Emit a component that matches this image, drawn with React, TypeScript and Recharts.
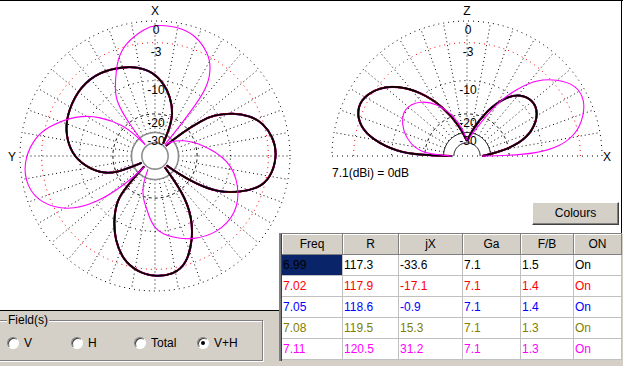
import { ScatterChart, Scatter, XAxis, YAxis } from 'recharts';

type Pt = [number, number];

// table values, one entry per frequency (MHz)
const freqs = ['6.99', '7.02', '7.05', '7.08', '7.11'];
const resistance = [117.3, 117.9, 118.6, 119.5, 120.5];
const reactance = [-33.6, -17.1, -0.9, 15.3, 31.2];
const gainDbi = [7.1, 7.1, 7.1, 7.1, 7.1];
const frontBack = [1.5, 1.4, 1.4, 1.3, 1.3];
const onState = ['On', 'On', 'On', 'On', 'On'];
const freqColors = ['#000000', '#ff0000', '#0000ff', '#808000', '#ff00ff'];
const tableHeaders = ['Freq', 'R', 'jX', 'Ga', 'F/B', 'ON'];

// grid rings (dB) and the ones that get a label
const ringDb = [0, -3, -10, -20, -30, -40];
const ringLabels = ['0', '-3', '-10', '-20', '-30'];
const fieldOptions = ['V', 'H', 'Total', 'V+H'];

// azimuth pattern, [degrees from X towards Y, dB rel. 7.1 dBi]
// field drawn for every frequency (colours overlap)
const azColouredRight: Pt[] = [
    [-129, -37.7], [-127, -25.8], [-124, -17.0], [-120, -10.8], [-113.5, -6.6], [-106, -3.2],
    [-98, -2.16], [-88.6, -1.74], [-81, -2.09], [-73, -3.05], [-67, -4.64], [-61, -7.15],
    [-55, -11.0], [-53, -13.9], [-49, -23.2], [-47, -37.7],
];
const azColouredBottom: Pt[] = [
    [134, -37.7], [136, -27.0], [137.3, -20.2], [139, -14.5], [147, -9.9], [154.5, -6.4],
    [163, -3.7], [171, -2.5], [179.2, -1.9], [189, -2.0], [196.5, -3.2], [204.2, -6.6],
    [211.2, -11.0], [217.2, -18.1], [221, -37.7],
];
const azColouredUpperLeft: Pt[] = [
    [-33.2, -37.7], [-28, -25.8], [-23.2, -18.3], [-14.3, -13.6], [-8, -10.9], [1.4, -8.1],
    [11.4, -6.8], [19.5, -6.1], [33, -5.0], [47.3, -4.8], [62, -5.5], [73.9, -6.3],
    [86, -7.9], [95.6, -10.1], [107.5, -14.6], [114, -20.0], [117, -37.7],
];
// other field, magenta only
const azMagentaTop: Pt[] = [
    [-41, -37.7], [-39.5, -20.9], [-38.5, -12.5], [-37, -7.3], [-32.2, -4.3], [-27.2, -2.6],
    [-18.2, -0.9], [-9, -0.45], [0, -0.5], [4.5, -0.9], [14.9, -2.5], [21.6, -4.6],
    [28.7, -8.4], [35.5, -11.5], [39, -20.9], [41, -37.7],
];
const azMagentaLeft: Pt[] = [
    [41, -37.7], [43, -27.0], [45.6, -19.2], [54.4, -11.9], [62.4, -7.3], [74.9, -3.2],
    [82.5, -1.6], [93, -0.4], [103.4, -0.4], [112.4, -1.5], [121.8, -4.5], [129, -10.1],
    [134, -21.3], [136, -37.7],
];
const azMagentaLowerRight: Pt[] = [
    [152, -37.7], [157, -24.2], [165.1, -18.7], [171, -16.0], [178.7, -10.3], [192.5, -8.1],
    [204.5, -6.6], [218.6, -5.3], [235, -5.15], [250.1, -7.0], [267, -10.1], [285.8, -18.2],
    [300, -24.7], [313.6, -31.9], [316, -37.7],
];

// elevation pattern, [degrees from +X towards Z, dB]
const elColouredLeft: Pt[] = [
    [90, -37.7], [103.4, -25.8], [115.7, -15.5], [126.2, -9.0], [135.1, -5.3], [141.7, -3.4],
    [150.2, -2.1], [157.4, -2.1], [164.7, -3.4], [170.3, -6.0], [176.5, -11.2], [178.8, -18.1],
    [180, -37.7],
];
const elColouredRight: Pt[] = [
    [0, -37.7], [2.9, -33.0], [7.4, -24.0], [13.5, -15.6], [21.4, -11.0], [30.9, -8.3],
    [40.2, -7.6], [49.3, -8.7], [56.2, -10.9], [66.8, -17.0], [82.5, -30.4], [88, -37.7],
];
const elMagentaRight: Pt[] = [
    [0, -37.7], [0.5, -20.9], [2.2, -11.4], [5.7, -6.3], [11.7, -3.2], [18.7, -1.6],
    [25.4, -0.6], [32.9, -0.6], [40.6, -2.3], [47.5, -4.6], [52.4, -7.6], [59.5, -12.5],
    [68.3, -23.1], [80, -32.8], [88, -37.7],
];
const elMagentaLeft: Pt[] = [
    [90, -37.7], [98, -28.1], [108.5, -19.6], [119.9, -13.7], [130.5, -10.7], [140.7, -9.4],
    [149, -9.8], [159.1, -11.7], [167.4, -14.4], [174.8, -18.0], [178.5, -27.6], [180, -37.7],
];

const UNIT = 135; // px radius of the 0 dB ring
const SPAN = 150 / UNIT;
const FLOOR = -40;

// ARRL log scale: 0.89 per 2 dB
const arrl = (db: number) => Math.pow(0.89, -Math.max(db, FLOOR) / 2);
const polar = (deg: number, db: number) => {
    const t = (deg * Math.PI) / 180;
    const r = arrl(db);
    return { x: r * Math.cos(t), y: r * Math.sin(t) };
};
const azPts = (lobe: Pt[]) => lobe.map(([a, db]) => polar(a + 90, db));
const elPts = (lobe: Pt[]) => lobe.map(([a, db]) => polar(a, db));

const arc = (db: number, from: number, to: number) => {
    const out = [];
    for (let a = from; a <= to; a += 2) out.push(polar(a, db));
    return out;
};

const noDot = () => <g />;

const path = (key: string, data: { x: number; y: number }[], stroke: string, width: number,
    dash?: string, curve: 'linear' | 'basis' = 'linear') => (
    <Scatter
        key={key}
        data={data}
        shape={noDot}
        isAnimationActive={false}
        legendType="none"
        lineJointType={curve}
        line={{ stroke, strokeWidth: width, strokeDasharray: dash, fill: 'none' }}
    />
);

const ringStyle = (db: number, solid: string): [string, number, string | undefined] => {
    if (db === -3) return ['#ff0000', 1, '1 4'];
    if (db === -20) return ['#000000', 1, '3 3'];
    if (db <= -30) return [solid, solid === '#000000' ? 1 : 1.6, undefined];
    return ['#000000', 1, '1 4'];
};

// later frequencies underneath, first one on top, so the trace looks dark with coloured fringes
const colouredLobe = (key: string, data: { x: number; y: number }[]) =>
    freqColors.map((c, i) => ({ c, i })).reverse()
        .map(({ c, i }) => path(`${key}-${i}`, data, c, 1.6 + i * 0.12, undefined, 'basis'));

const azimuthGrid = () => {
    const items = [];
    for (let a = 0; a < 360; a += 10) {
        items.push(path(`sp${a}`, [polar(a, -30), polar(a, 0)], '#000000', 1, '1 3'));
    }
    ringDb.forEach((db) => {
        const [c, w, d] = ringStyle(db, '#8c8c8c');
        items.push(path(`r${db}`, arc(db, 0, 360), c, w, d));
    });
    return items;
};

const elevationGrid = () => {
    const items = [];
    for (let a = 10; a < 180; a += 10) {
        items.push(path(`sp${a}`, [polar(a, -30), polar(a, 0)], '#000000', 1, '1 3'));
    }
    items.push(path('ground', [polar(180, 0), polar(0, 0)], '#000000', 1, '1 4'));
    ringDb.forEach((db) => {
        const [c, w, d] = ringStyle(db, '#000000');
        items.push(path(`r${db}`, arc(db, 0, 180), c, w, d));
    });
    return items;
};

const label = (text: string, x: number, y: number) => (
    <div key={`${text}-${x}-${y}`} style={{ position: 'absolute', left: x - 20, top: y - 7, width: 40, textAlign: 'center', lineHeight: '14px' }}>
        {text}
    </div>
);

const ringLabelEls = (cx: number, cy: number) =>
    ringLabels.map((t, i) => label(t, cx + 1, cy - UNIT * arrl(ringDb[i]) + 9));

const colX = [282, 343, 399, 463, 521, 574, 622];
const fmt = (v: number) => v.toFixed(1);

const App = () => {
    const rows = freqs.map((f, i) => [f, fmt(resistance[i]), fmt(reactance[i]), fmt(gainDbi[i]), fmt(frontBack[i]), onState[i]]);
    return (
        <div style={{
            position: 'relative', width: 623, height: 366, background: '#ffffff', overflow: 'hidden',
            fontFamily: '"Liberation Sans", Arial, sans-serif', fontSize: 12, color: '#000',
        }}>
            <style>{'body{margin:0}'}</style>
            <div style={{ position: 'absolute', left: 0, top: 0, width: 623, height: 1, background: '#000' }} />
            <div style={{ position: 'absolute', left: 621, top: 0, width: 1, height: 234, background: '#000' }} />

            {/* azimuth plot */}
            <div style={{ position: 'absolute', left: 5, top: 6 }}>
                <ScatterChart width={300} height={300} margin={{ top: 0, right: 0, bottom: 0, left: 0 }}>
                    <XAxis type="number" dataKey="x" domain={[-SPAN, SPAN]} hide allowDataOverflow />
                    <YAxis type="number" dataKey="y" domain={[-SPAN, SPAN]} hide allowDataOverflow />
                    {azimuthGrid()}
                    {colouredLobe('azR', azPts(azColouredRight))}
                    {colouredLobe('azB', azPts(azColouredBottom))}
                    {colouredLobe('azUL', azPts(azColouredUpperLeft))}
                    {path('azMT', azPts(azMagentaTop), '#ff00ff', 1.1, undefined, 'basis')}
                    {path('azML', azPts(azMagentaLeft), '#ff00ff', 1.1, undefined, 'basis')}
                    {path('azMLR', azPts(azMagentaLowerRight), '#ff00ff', 1.1, undefined, 'basis')}
                </ScatterChart>
            </div>
            {ringLabelEls(155, 156)}
            {label('X', 155, 11)}
            {label('Y', 12, 157)}

            {/* elevation plot */}
            <div style={{ position: 'absolute', left: 317, top: 6 }}>
                <ScatterChart width={300} height={160} margin={{ top: 0, right: 0, bottom: 0, left: 0 }}>
                    <XAxis type="number" dataKey="x" domain={[-SPAN, SPAN]} hide allowDataOverflow />
                    <YAxis type="number" dataKey="y" domain={[-10 / UNIT, SPAN]} hide allowDataOverflow />
                    {elevationGrid()}
                    {colouredLobe('elL', elPts(elColouredLeft))}
                    {colouredLobe('elR', elPts(elColouredRight))}
                    {path('elMR', elPts(elMagentaRight), '#ff00ff', 1.1, undefined, 'basis')}
                    {path('elML', elPts(elMagentaLeft), '#ff00ff', 1.1, undefined, 'basis')}
                </ScatterChart>
            </div>
            {ringLabelEls(467, 156)}
            {label('Z', 467, 11)}
            {label('X', 607, 157)}
            <div style={{ position: 'absolute', left: 332, top: 166, lineHeight: '14px', whiteSpace: 'nowrap' }}>
                7.1(dBi) = 0dB
            </div>

            {/* Colours button */}
            <div style={{
                position: 'absolute', left: 532, top: 202, width: 87, height: 23, boxSizing: 'border-box',
                background: '#d4d0c8', borderStyle: 'solid', borderWidth: 1, borderColor: '#ffffff #404040 #404040 #ffffff',
                boxShadow: 'inset -1px -1px 0 #808080', textAlign: 'center', lineHeight: '21px',
            }}>Colours</div>

            {/* field selector panel */}
            <div style={{ position: 'absolute', left: 0, top: 310, width: 279, height: 56, background: '#d4d0c8', borderTop: '1px solid #000', boxSizing: 'border-box' }} />
            <div style={{
                position: 'absolute', left: -3, top: 320, width: 266, height: 41, boxSizing: 'border-box',
                border: '1px solid #808080', boxShadow: 'inset 1px 1px 0 #ffffff, 1px 1px 0 #ffffff',
            }} />
            <div style={{ position: 'absolute', left: 7, top: 313, background: '#d4d0c8', padding: '0 1px', lineHeight: '14px' }}>Field(s)</div>
            {fieldOptions.map((opt, i) => {
                const cx = [13, 77, 140, 203][i];
                return (
                    <div key={opt} style={{ position: 'absolute', left: cx - 6, top: 337, width: 12, height: 12 }}>
                        <div style={{
                            width: 12, height: 12, borderRadius: '50%', boxSizing: 'border-box', background: '#fff',
                            border: '1px solid', borderColor: '#808080 #ffffff #ffffff #808080', boxShadow: 'inset 1px 1px 0 #404040',
                        }} />
                        {opt === 'V+H' && <div style={{ position: 'absolute', left: 4, top: 4, width: 4, height: 4, borderRadius: '50%', background: '#000' }} />}
                        <span style={{ position: 'absolute', left: 17, top: -1, lineHeight: '14px', whiteSpace: 'nowrap' }}>{opt}</span>
                    </div>
                );
            })}

            {/* results table */}
            <div style={{ position: 'absolute', left: 279, top: 360, width: 344, height: 6, background: '#d4d0c8' }} />
            <div style={{ position: 'absolute', left: 622, top: 234, width: 1, height: 132, background: '#d4d0c8' }} />
            <div style={{ position: 'absolute', left: 279, top: 233, width: 2, height: 128, background: '#808080', borderRight: '1px solid #404040' }} />
            <div style={{ position: 'absolute', left: 279, top: 233, width: 343, height: 1, background: '#808080' }} />
            {tableHeaders.map((h, c) => (
                <div key={h} style={{
                    position: 'absolute', left: colX[c], top: 234, width: colX[c + 1] - colX[c], height: 21, boxSizing: 'border-box',
                    background: '#d4d0c8', borderRight: '1px solid #808080', borderBottom: '1px solid #808080',
                    boxShadow: 'inset 1px 1px 0 #ffffff', textAlign: 'center', lineHeight: '20px',
                }}>{h}</div>
            ))}
            {rows.map((row, r) => row.map((v, c) => (
                <div key={`${r}-${c}`} style={{
                    position: 'absolute', left: colX[c], top: 255 + r * 21, width: colX[c + 1] - colX[c], height: 21,
                    boxSizing: 'border-box', borderRight: '1px solid #c0c0c0', borderBottom: '1px solid #c0c0c0',
                    background: r === 0 && c === 0 ? '#0a246a' : '#ffffff', color: freqColors[r],
                    paddingLeft: 1, lineHeight: '20px', whiteSpace: 'nowrap',
                }}>{v}</div>
            )))}
        </div>
    );
};

export default App;
